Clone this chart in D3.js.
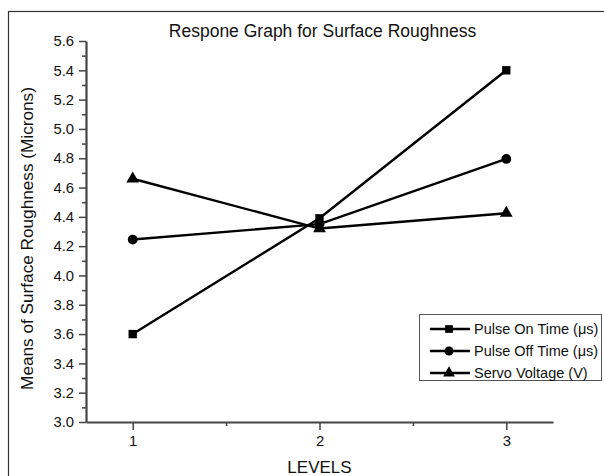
<!DOCTYPE html>
<html><head><meta charset="utf-8">
<script src="https://cdn.jsdelivr.net/npm/d3@7"></script>
<style>body{margin:0;background:#fff}svg{display:block}text{font-family:Arial,"Liberation Sans",sans-serif}</style>
</head><body><svg id="c" width="604" height="476"></svg>
<script>
const levels = [1, 2, 3];
const pulseOn = [3.60, 4.39, 5.40];
const pulseOff = [4.245, 4.35, 4.795];
const servo = [4.66, 4.32, 4.425];
const seriesNames = ["Pulse On Time (μs)", "Pulse Off Time (μs)", "Servo Voltage (V)"];
const yTicks = [3.0, 3.2, 3.4, 3.6, 3.8, 4.0, 4.2, 4.4, 4.6, 4.8, 5.0, 5.2, 5.4, 5.6];
const xTicks = [1, 2, 3];
const title = "Respone Graph for Surface Roughness";
const xTitle = "LEVELS";
const yTitle = "Means of Surface Roughness (Microns)";

const svg = d3.select("#c");
svg.append("rect").attr("x", 8.5).attr("y", 11.5).attr("width", 700).attr("height", 600)
  .attr("fill", "none").attr("stroke", "#333").attr("stroke-width", 1.2);

const x = d3.scaleLinear().domain([0.75, 3.25]).range([86, 553]);
const y = d3.scaleLinear().domain([3.0, 5.6]).range([422, 41]);
const axisColor = "#444";

// y axis
svg.append("g").attr("transform", "translate(86,0)")
  .call(d3.axisLeft(y).tickValues(yTicks).tickFormat(d3.format(".1f")).tickSize(7).tickPadding(5).tickSizeOuter(0));
svg.append("g").attr("transform", "translate(86,0)")
  .call(d3.axisLeft(y).tickValues(d3.range(3.1, 5.6, 0.2)).tickFormat("").tickSize(4).tickSizeOuter(0))
  .select(".domain").remove();
// x axis
svg.append("g").attr("transform", "translate(0,422)")
  .call(d3.axisBottom(x).tickValues(xTicks).tickFormat(d3.format("d")).tickSize(8).tickPadding(5).tickSizeOuter(0));
svg.append("g").attr("transform", "translate(0,422)")
  .call(d3.axisBottom(x).tickValues([1.5, 2.5]).tickFormat("").tickSize(4).tickSizeOuter(0))
  .select(".domain").remove();

svg.selectAll(".domain").attr("stroke", axisColor).attr("stroke-width", 2.2);
svg.selectAll(".tick line").attr("stroke", axisColor).attr("stroke-width", 1.5);
svg.selectAll(".tick text").attr("font-size", 14.8).attr("fill", "#111")
  .style("font-family", "Arial, 'Liberation Sans', sans-serif");

// titles
svg.append("text").attr("x", 322.5).attr("y", 37).attr("text-anchor", "middle")
  .attr("font-size", 17.5).attr("fill", "#111").text(title);
svg.append("text").attr("x", 319.5).attr("y", 473).attr("text-anchor", "middle")
  .attr("font-size", 17).attr("fill", "#111").text(xTitle);
svg.append("text").attr("transform", "translate(33,238.5) rotate(-90)").attr("text-anchor", "middle")
  .attr("font-size", 17.2).attr("fill", "#111").text(yTitle);

const data = [pulseOn, pulseOff, servo];
const symbols = [d3.symbolSquare, d3.symbolCircle, d3.symbolTriangle];
const symSizes = [70, 75, 70];
const line = d3.line().x((d, i) => x(levels[i])).y(d => y(d));

data.forEach((vals, s) => {
  svg.append("path").attr("d", line(vals)).attr("fill", "none")
    .attr("stroke", "#000").attr("stroke-width", 2.4);
  svg.selectAll(null).data(vals).enter().append("path")
    .attr("transform", (d, i) => `translate(${x(levels[i])},${y(d)})`)
    .attr("d", d3.symbol().type(symbols[s]).size(symSizes[s]))
    .attr("fill", "#000");
});

// legend
const lg = svg.append("g");
lg.append("rect").attr("x", 419.5).attr("y", 314.5).attr("width", 182).attr("height", 66)
  .attr("fill", "#fff").attr("stroke", "#555").attr("stroke-width", 1);
seriesNames.forEach((name, s) => {
  const yy = 329 + s * 22;
  lg.append("line").attr("x1", 430).attr("x2", 470).attr("y1", yy).attr("y2", yy)
    .attr("stroke", "#000").attr("stroke-width", 2.4);
  lg.append("path").attr("transform", `translate(449,${yy})`)
    .attr("d", d3.symbol().type(symbols[s]).size(symSizes[s] * 0.85)).attr("fill", "#000");
  lg.append("text").attr("x", 474).attr("y", yy + 5).attr("font-size", 14.5)
    .attr("fill", "#111").text(name);
});
</script></body></html>
